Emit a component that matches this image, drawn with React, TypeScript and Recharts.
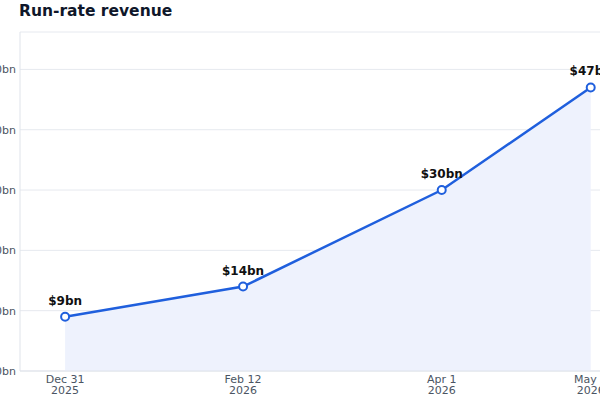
import React from "react";
import {
	ComposedChart,
	Area,
	Line,
	XAxis,
	YAxis,
	CartesianGrid,
	LabelList,
} from "recharts";

// days after Dec 31 2025
const dayOffsets = [0, 43, 91, 127];
const tickDates = ["Dec 31", "Feb 12", "Apr 1", "May 7"];
const tickYears = ["2025", "2026", "2026", "2026"];
const revenueBn = [9, 14, 30, 47];
const yTicks = [0, 10, 20, 30, 40, 50];

const COLORS = {
	line: "#1f5fdd",
	area: "#eef2fd",
	grid: "#e6e9ef",
	axis: "#dfe3ea",
	tick: "#4b5563",
	title: "#0f172a",
};

const FONT = "DejaVu Sans, sans-serif";

const data = dayOffsets.map((d, i) => ({
	day: d,
	value: revenueBn[i],
}));

// two-line date tick
const DateTick = ({ x, y, payload }: any) => {
	const i = dayOffsets.indexOf(payload.value);
	return (
		<g transform={`translate(${x},${y})`}>
			<text textAnchor="middle" fill={COLORS.tick} fontSize={11} fontFamily={FONT}>
				<tspan x={0} dy={9.5}>{tickDates[i]}</tspan>
				<tspan x={0} dy={11.5}>{tickYears[i]}</tspan>
			</text>
		</g>
	);
};

export default function App() {
	return (
		<div
			style={{
				position: "absolute",
				top: 0,
				left: 0,
				width: 600,
				height: 400,
				overflow: "hidden",
				background: "#fff",
			}}
		>
			<div
				style={{
					position: "absolute",
					left: 19,
					top: 2,
					fontFamily: FONT,
					fontWeight: "bold",
					fontSize: 15.5,
					color: COLORS.title,
				}}
			>
				Run-rate revenue
			</div>
			<div style={{ position: "absolute", left: -60, top: 0 }}>
				<ComposedChart
					width={720}
					height={400}
					data={data}
					margin={{ top: 32, right: 25, left: 10, bottom: 0 }}
				>
					<CartesianGrid vertical={false} stroke={COLORS.grid} />
					<XAxis
						dataKey="day"
						type="number"
						domain={[-10.9, 137.7]}
						ticks={dayOffsets}
						tick={<DateTick />}
						tickLine={false}
						tickSize={0}
						stroke={COLORS.axis}
						height={29}
						allowDataOverflow
					/>
					<YAxis
						type="number"
						domain={[0, 56.2]}
						ticks={yTicks}
						width={70}
						tickLine={false}
						tickSize={0}
						tickMargin={4}
						stroke={COLORS.axis}
						tick={{ fill: COLORS.tick, fontSize: 11, fontFamily: FONT }}
						tickFormatter={(v) => `$${v}bn`}
						allowDataOverflow
					/>
					<Area
						dataKey="value"
						type="linear"
						fill={COLORS.area}
						fillOpacity={1}
						stroke="none"
						isAnimationActive={false}
					/>
					<Line
						dataKey="value"
						type="linear"
						stroke={COLORS.line}
						strokeWidth={2.5}
						dot={{ r: 4, fill: "#fff", stroke: COLORS.line, strokeWidth: 2 }}
						isAnimationActive={false}
					>
						<LabelList
							dataKey="value"
							position="top"
							offset={12}
							formatter={(v: any) => `$${v}bn`}
							fill="#111"
							fontSize={12}
							fontWeight="bold"
							fontFamily={FONT}
						/>
					</Line>
				</ComposedChart>
			</div>
		</div>
	);
}
